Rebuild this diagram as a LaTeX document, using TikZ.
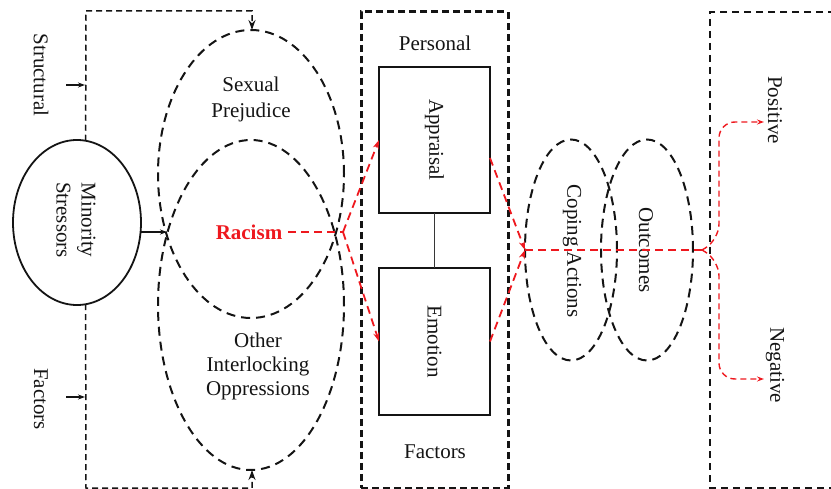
\documentclass[tikz,border=0pt]{standalone}
\usepackage{fontspec}
\setmainfont{Liberation Serif}
\usetikzlibrary{shapes.geometric,arrows.meta,calc}
\definecolor{flowred}{RGB}{238,24,30}
\definecolor{ink}{RGB}{20,20,20}
\begin{document}
\begin{tikzpicture}[x=1pt,y=-1pt,
  txt/.style={font=\fontsize{21}{24}\selectfont, align=center, inner sep=0pt, text=ink},
  vtxt/.style={txt, rotate=-90},
  oval/.style={ellipse, draw=ink, inner sep=0pt, outer sep=0pt},
  dashedoval/.style={oval, line width=2pt, dash pattern=on 9pt off 6pt},
  frameline/.style={draw=ink, line width=1.5pt, dash pattern=on 6pt off 4pt},
  boxline/.style={draw=ink, line width=3pt, dash pattern=on 7pt off 4pt},
  solidbox/.style={draw=ink, line width=2.5pt, inner sep=0pt, outer sep=0pt},
  redflow/.style={draw=flowred, line width=1.8pt, dash pattern=on 8pt off 5pt},
  redbranch/.style={draw=flowred, line width=1.4pt, dash pattern=on 6pt off 4pt, rounded corners=16pt},
  tip/.style={-{Stealth[length=9pt,width=6pt]}},
  smalltip/.style={-{Stealth[length=7pt,width=5pt]}},
  frametip/.style={-{Stealth[length=10pt,width=7pt]}},
]
\useasboundingbox (0,0) rectangle (831,489);

% minority stressors and the structural factors frame
\node[oval, line width=1.8pt, minimum width=128pt, minimum height=165pt] (ms) at (77,222.5) {};
\node[vtxt] (mstext) at (76,220) {Minority\\[1pt]Stressors};

\node[vtxt] (structural) at (41,75) {Structural};
\node[vtxt] (factorsl) at (41,399) {Factors};

% two overlapping oppression ovals
\node[dashedoval, minimum width=186pt, minimum height=288pt] (sp) at (251,174) {};
\node[dashedoval, minimum width=186pt, minimum height=330pt] (oio) at (251,305) {};
\node[txt, font=\fontsize{21}{26}\selectfont] (sptext) at (251,99) {Sexual\\Prejudice};
\node[txt] (oiotext) at (258,366) {Other\\Interlocking\\Oppressions};
\node[txt, font=\fontsize{21}{24}\selectfont\bfseries, text=flowred, inner sep=6pt] (rac) at (249,232) {Racism};

\coordinate (ftl) at (86,11);
\coordinate (ftr) at (252,11);
\coordinate (fbl) at (86,488);
\coordinate (fbr) at (252,488);
\draw[frameline, frametip] (ms.84) -- (ftl) -- (ftr) -- (sp.north -| ftr);
\draw[frameline, frametip] (ms.-84) -- (fbl) -- (fbr) -- (oio.south -| fbr);

\coordinate (sin) at (66,85);
\coordinate (fin) at (66,397);
\draw[draw=ink, line width=1.2pt, smalltip] (sin) -- (85,85);
\draw[draw=ink, line width=1.2pt, smalltip] (fin) -- (85,397);
\coordinate (msin) at (167,232);
\draw[draw=ink, line width=1.2pt, smalltip] (ms.east |- msin) -- (msin);

% personal factors
\node[boxline, draw, minimum width=147pt, minimum height=476pt, inner sep=0pt] (pf) at (434.5,250) {};
\node[txt] (pftop) at (435,43) {Personal};
\node[txt] (pfbot) at (435,452) {Factors};
\node[solidbox, minimum width=111pt, minimum height=146pt] (app) at (434.5,140) {};
\node[solidbox, minimum width=111pt, minimum height=147pt] (emo) at (434.5,341.5) {};
\node[vtxt] (apptext) at (app.center) {Appraisal};
\node[vtxt] (emotext) at (emo.center) {Emotion};
\draw[draw=ink!85, line width=1.5pt] (app.south) -- (emo.north);

% coping and outcomes
\node[dashedoval, minimum width=92pt, minimum height=221pt] (cope) at (571,250) {};
\node[dashedoval, minimum width=92pt, minimum height=221pt] (out) at (647,250) {};
\node[vtxt] (copetext) at (572,251) {Coping Actions};
\node[vtxt] (outtext) at (646,250) {Outcomes};

% outcome split frame, open to the right
\coordinate (rbt) at (835,12);
\coordinate (rtl) at (710,12);
\coordinate (rbl) at (710,488);
\coordinate (rbb) at (835,488);
\draw[draw=ink, line width=2.5pt, dash pattern=on 7pt off 5pt] (rbt) -- (rtl) -- (rbl) -- (rbb);
\node[vtxt] (pos) at (775,110) {Positive};
\node[vtxt] (neg) at (775,365) {Negative};

% red pathway
\coordinate (j1) at (343,232);
\coordinate (j2) at (525,250);
\coordinate (j3) at (702,250);
\coordinate (pend) at (764,122);
\coordinate (nend) at (764,379);
\draw[redflow] (rac.east) -- (j1);
\draw[redflow, tip] (j1) -- (app.west);
\draw[redflow, tip] (j1) -- (emo.west);
\draw[redflow, tip] (app.-18) -- (j2);
\draw[redflow, tip] (emo.east) -- (j2);
\draw[redflow] (j2) -- (j3);
\draw[redbranch, smalltip] (j3) -- (719,240) -- (719,122) -- (pend);
\draw[redbranch, smalltip] (j3) -- (719,260) -- (719,379) -- (nend);
\end{tikzpicture}
\end{document}
